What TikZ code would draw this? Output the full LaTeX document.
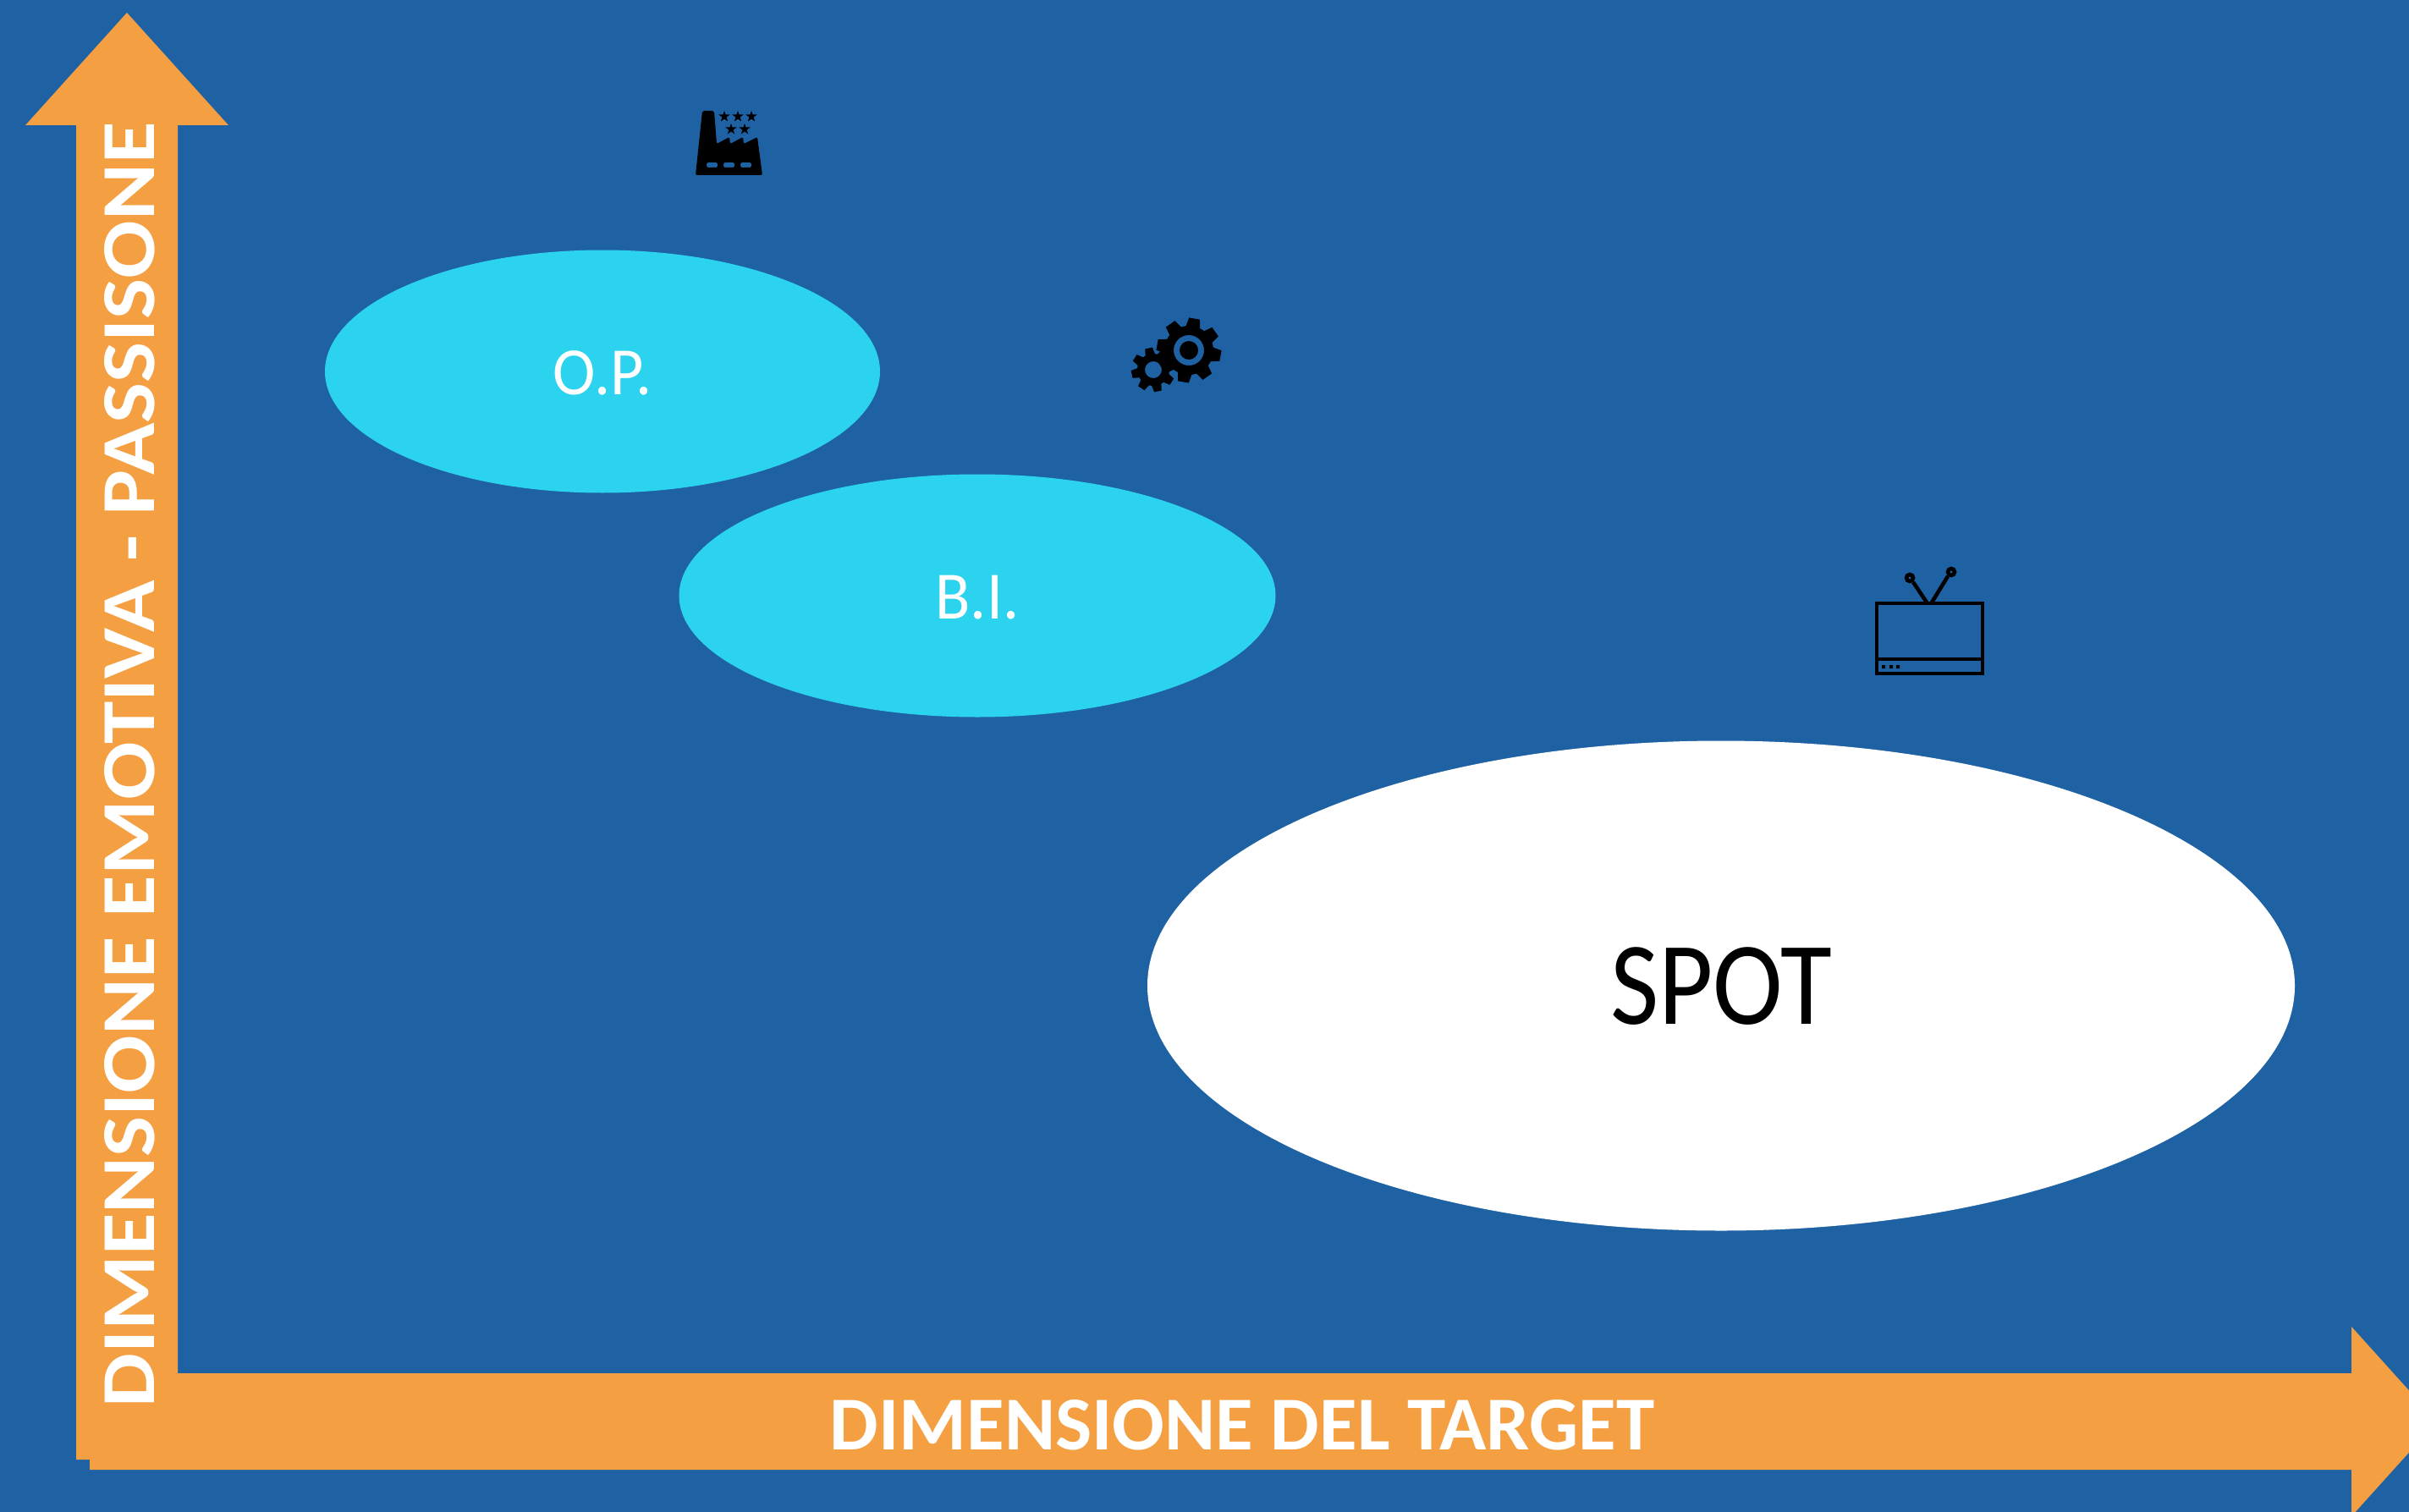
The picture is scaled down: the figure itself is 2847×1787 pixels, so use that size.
\documentclass[tikz,border=0pt]{standalone}
\usepackage{fontspec}
\setmainfont{Carlito}
\usetikzlibrary{shapes.geometric,calc}
\definecolor{bgblue}{HTML}{1E62A4}
\definecolor{axis}{HTML}{F59F43}
\definecolor{cyanE}{HTML}{2CD3EF}
\tikzset{
  arrowshape/.style={fill=axis,draw=none},
  axislabel/.style={text=white,font=\fontsize{45}{45}\selectfont\bfseries,inner sep=0pt},
  ovallabel/.style={font=\fontsize{40}{40}\selectfont,text=white,inner sep=0pt,xscale=0.95},
  iconline/.style={draw=black,line width=2.3pt,fill=none}
}
\newcommand{\gearicon}[7]{% cx cy rout rroot nteeth hole rotation
  \fill[black,even odd rule] (#1,#2) circle[radius=#4] (#1,#2) circle[radius=#6];
  \foreach \i in {1,...,#5}{
    \fill[black,shift={(#1,#2)},rotate=\i*360/#5+#7] (-0.22*#3,-0.95*#4) -- (-0.17*#3,-#3) -- (0.17*#3,-#3) -- (0.22*#3,-0.95*#4) -- cycle;
  }
}
\begin{document}
\begin{tikzpicture}[x=0.5pt,y=-0.5pt]
\useasboundingbox (0,0) rectangle (2847,1787);
\fill[bgblue] (0,0) rectangle (2847,1787);
% axes
\begin{scope}
\clip (0,0) rectangle (2847,1787);
\fill[arrowshape] (150,15) -- (270,148) -- (210,148) -- (210,1725) -- (90,1725) -- (90,148) -- (30,148) -- cycle;
\fill[arrowshape] (106,1623) -- (2779,1623) -- (2779,1568) -- (2880,1680) -- (2779,1792) -- (2779,1737) -- (106,1737) -- cycle;
\end{scope}
\node[axislabel,xscale=1.015] (xlab) at (1468,1684) {DIMENSIONE DEL TARGET};
\node[axislabel,rotate=90,xscale=1.128] (ylab) at (153,904) {DIMENSIONE EMOTIVA - PASSISONE};
% ovals
\node[ellipse,fill=cyanE,minimum width=328pt,minimum height=143.5pt,inner sep=0pt] (op) at (712,439) {};
\node[ellipse,fill=cyanE,minimum width=352.5pt,minimum height=143.5pt,inner sep=0pt] (bi) at (1155,704) {};
\node[ellipse,fill=white,minimum width=678pt,minimum height=289.5pt,inner sep=0pt] (spot) at (2034,1165) {};
\node[ovallabel] (oplab) at (712,441) {O.P.};
\node[ovallabel] (bilab) at (1155,706) {B.I.};
\node[inner sep=0pt,font=\fontsize{70}{70}\selectfont,text=black,xscale=0.89] (spotlab) at (2034,1166) {SPOT};
% factory
\fill[black,even odd rule,rounded corners=1pt] (830,131) -- (844,131) -- (847,170) -- (862,162) -- (863,170) -- (878,162) -- (879,170) -- (895,162) -- (901,207) -- (822,207) -- cycle
 (835,192) rectangle (848,198) (855,192) rectangle (868,198) (875,192) rectangle (888,198);
\foreach \cx/\cy in {856/137,872/137,888/137,864/152,880/152}{
  \fill[black] (\cx,\cy-6) -- ++(1.6,4.5) -- ++(5,0) -- ++(-4,3) -- ++(1.6,5) -- ++(-4.2,-3) -- ++(-4.2,3) -- ++(1.6,-5) -- ++(-4,-3) -- ++(5,0) -- cycle;
}
% gears
\gearicon{1363}{437}{26}{19}{8}{10}{12}
\gearicon{1405}{414}{38}{29}{8}{18}{-10}
\fill[black] (1405,414) circle[radius=11];
% tv
\draw[iconline] (2218,713) rectangle (2343,796);
\draw[iconline] (2218,779) -- (2343,779);
\draw[iconline] (2277,712) -- (2261,688);
\draw[iconline] (2283,712) -- (2302,681);
\draw[iconline] (2257,683) circle[radius=4];
\draw[iconline] (2306,676) circle[radius=4];
\fill[black] (2224,786) rectangle (2228,790) (2233,786) rectangle (2237,790) (2241,786) rectangle (2245,790);
\end{tikzpicture}
\end{document}
